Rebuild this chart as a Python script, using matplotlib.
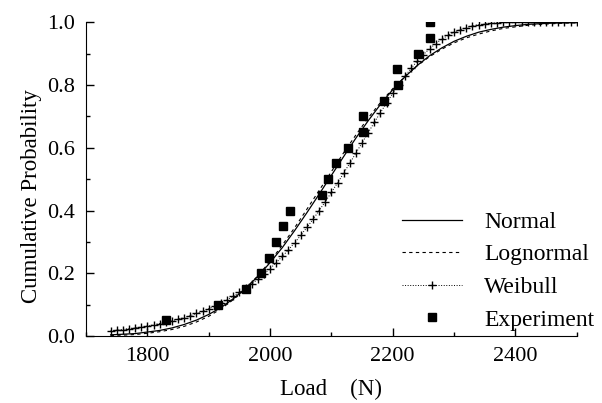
import matplotlib
matplotlib.use("Agg")
import matplotlib.pyplot as plt
from matplotlib.ticker import MultipleLocator
import numpy as np

plt.rcParams['font.family'] = ['Liberation Serif', 'DejaVu Serif']
plt.rcParams['font.size'] = 16

# fitted curves
curve_x = [1740, 1760, 1780, 1800, 1820, 1840, 1860, 1880, 1900, 1920,
           1940, 1960, 1980, 2000, 2020, 2040, 2060, 2080, 2100, 2120,
           2140, 2160, 2180, 2200, 2220, 2240, 2260, 2280, 2300, 2320,
           2340, 2360, 2380, 2400, 2420, 2440, 2460, 2480, 2500]
normal_y = [0.004, 0.006, 0.008, 0.013, 0.018, 0.026, 0.037, 0.051, 0.069, 0.091,
            0.119, 0.152, 0.190, 0.234, 0.282, 0.336, 0.393, 0.452, 0.512, 0.572,
            0.631, 0.686, 0.738, 0.785, 0.826, 0.862, 0.893, 0.918, 0.939, 0.955,
            0.968, 0.977, 0.984, 0.989, 0.993, 0.995, 0.997, 0.998, 0.999]
lognormal_y = [0.002, 0.003, 0.005, 0.009, 0.014, 0.021, 0.031, 0.045, 0.063, 0.087,
               0.116, 0.151, 0.192, 0.238, 0.290, 0.345, 0.404, 0.464, 0.524, 0.584,
               0.641, 0.695, 0.744, 0.788, 0.827, 0.861, 0.890, 0.914, 0.934, 0.950,
               0.962, 0.972, 0.980, 0.985, 0.990, 0.993, 0.995, 0.997, 0.998]

weibull_x = np.arange(1740, 2501, 10)
weibull_y = [0.017, 0.019, 0.021, 0.024, 0.026, 0.029, 0.032, 0.036, 0.040, 0.044,
             0.049, 0.054, 0.059, 0.065, 0.072, 0.079, 0.087, 0.096, 0.105, 0.116,
             0.127, 0.139, 0.152, 0.166, 0.181, 0.198, 0.215, 0.234, 0.254, 0.275,
             0.297, 0.321, 0.346, 0.372, 0.400, 0.428, 0.458, 0.488, 0.519, 0.551,
             0.583, 0.616, 0.648, 0.681, 0.712, 0.743, 0.773, 0.801, 0.828, 0.853,
             0.876, 0.897, 0.915, 0.932, 0.946, 0.958, 0.968, 0.976, 0.983, 0.988,
             0.992, 0.994, 0.996, 0.998, 0.999, 0.999, 1.000, 1.000, 1.000, 1.000,
             1.000, 1.000, 1.000, 1.000, 1.000, 1.000, 1.000]

exp_x = [1831, 1915, 1961, 1985, 1998, 2009, 2021, 2033, 2084, 2095,
         2107, 2127, 2152, 2152, 2185, 2208, 2207, 2241, 2260, 2260]
exp_y = [0.05, 0.10, 0.15, 0.20, 0.25, 0.30, 0.35, 0.40, 0.45, 0.50,
         0.55, 0.60, 0.65, 0.70, 0.75, 0.80, 0.85, 0.90, 0.95, 1.00]

fig = plt.figure(figsize=(6.02, 4.03), dpi=100)
ax = fig.add_axes([0.143, 0.166, 0.815, 0.779])

ax.plot(curve_x, normal_y, '-', color='black', lw=0.9, label='Normal')
ax.plot(curve_x, lognormal_y, '--', color='black', lw=0.8, dashes=(3, 3), label='Lognormal')
ax.plot(weibull_x, weibull_y, ':', color='black', lw=0.7, marker='+', ms=6, mew=1.0,
        label='Weibull')
ax.plot(exp_x, exp_y, 's', color='black', ms=5.5, label='Experiment')

ax.set_xlim(1700, 2500)
ax.set_ylim(0, 1.0)
ax.xaxis.set_major_locator(MultipleLocator(200))
ax.xaxis.set_minor_locator(MultipleLocator(100))
ax.yaxis.set_major_locator(MultipleLocator(0.2))
ax.yaxis.set_minor_locator(MultipleLocator(0.1))
ax.yaxis.set_major_formatter(plt.FormatStrFormatter('%.1f'))
ax.tick_params(which='both', direction='in', width=1, labelsize=16, pad=8)
ax.tick_params(which='major', length=6)
ax.tick_params(which='minor', length=3)
ax.spines['top'].set_visible(False)
ax.spines['right'].set_visible(False)

ax.set_xlabel('Load    (N)', fontsize=16.5, labelpad=9)
ax.set_ylabel('Cumulative Probability', fontsize=16.5)
ax.yaxis.set_label_coords(-0.09, 0.446)

ax.legend(loc='center left', bbox_to_anchor=(0.668, 0.3275), bbox_transform=fig.transFigure,
          frameon=False, borderpad=0, borderaxespad=0, handlelength=2.55,
          handletextpad=0.93, labelspacing=0.47, numpoints=1, fontsize=17)

fig.savefig('out.png', dpi=100)
